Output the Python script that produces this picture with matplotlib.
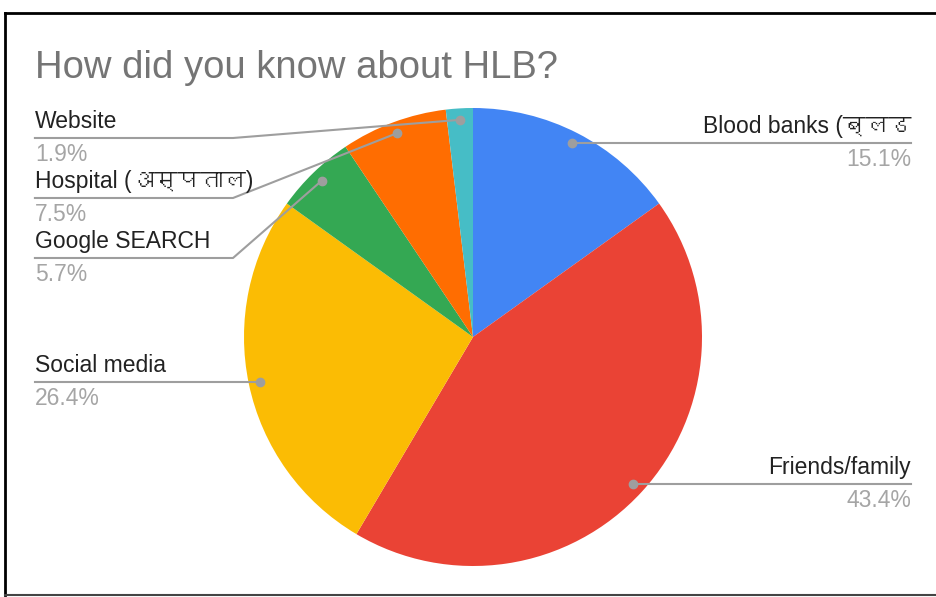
import numpy as np
import matplotlib
matplotlib.use("Agg")
import matplotlib.pyplot as plt
from matplotlib import font_manager
from matplotlib.ft2font import FT2Font
from matplotlib.lines import Line2D

# ─────────────────────────────────────────────
# Data
# ─────────────────────────────────────────────
labels = ["Blood banks (ब्लड", "Friends/family", "Social media",
          "Google SEARCH", "Hospital (अस्पताल)", "Website"]
shares = [15.1, 43.4, 26.4, 5.7, 7.5, 1.9]
colors = ["#4285F4", "#EA4335", "#FBBC04", "#34A853", "#FF6D01", "#46BDC6"]

# side of each label and the y level (data units) of its label line
# None -> line stays level with the slice dot
label_side = ["right", "right", "left", "left", "left", "left"]
label_level = [None, None, None, 0.345, 0.607, 0.869]


# find any installed font that can draw Devanagari
def find_devanagari():
    for f in font_manager.fontManager.ttflist:
        try:
            if 0x0905 in FT2Font(f.fname).get_charmap():
                return f.name
        except Exception:
            continue
    return None


families = ["Liberation Sans", "DejaVu Sans"]
deva = find_devanagari()
if deva:
    families.insert(1, deva)
plt.rcParams["font.family"] = families

W, H = 937, 597
fig = plt.figure(figsize=(W / 100, H / 100), dpi=100)

# pie centred at (473, 337) px, radius 229 px
cx, cy, r = 473, 337, 229
ax = fig.add_axes([(cx - r) / W, (H - cy - r) / H, 2 * r / W, 2 * r / H])
wedges, _ = ax.pie(shares, colors=colors, startangle=90, counterclock=False,
                   radius=1, wedgeprops=dict(linewidth=0))
ax.set_xlim(-1, 1)
ax.set_ylim(-1, 1)
ax.set_aspect("equal")
ax.axis("off")

line_col = "#9e9e9e"
x_left, x_right, x_elbow = -1.913, 1.913, -1.048
for w, lab, pct, side, lvl in zip(wedges, labels, shares, label_side, label_level):
    mid = np.deg2rad((w.theta1 + w.theta2) / 2)
    dx, dy = 0.95 * np.cos(mid), 0.95 * np.sin(mid)
    ax.plot([dx], [dy], "o", color=line_col, markersize=6, clip_on=False, zorder=5)
    if side == "right":
        ax.plot([dx, x_right], [dy, dy], color=line_col, lw=1.5, clip_on=False)
        y, xt, ha = dy, x_right, "right"
    elif lvl is None:
        ax.plot([x_left, dx], [dy, dy], color=line_col, lw=1.5, clip_on=False)
        y, xt, ha = dy, x_left, "left"
    else:
        ax.plot([dx, x_elbow, x_left], [dy, lvl, lvl], color=line_col, lw=1.5,
                clip_on=False)
        y, xt, ha = lvl, x_left, "left"
    ax.text(xt, y + 0.044, lab, ha=ha, va="baseline", fontsize=16.5, color="#222222")
    ax.text(xt, y - 0.1, f"{pct:.1f}%", ha=ha, va="baseline", fontsize=16.5,
            color="#a5a5a5")

fig.text(35 / W, 1 - 78 / H, "How did you know about HLB?", fontsize=27.5,
         color="#757575", va="baseline", ha="left")

# frame around the chart (open on the right)
fig.add_artist(Line2D([5.5 / W, 1], [1 - 12.5 / H, 1 - 12.5 / H], color="black", lw=2))
fig.add_artist(Line2D([5.5 / W, 5.5 / W], [1 - 12.5 / H, 1 - 595 / H], color="black", lw=2))
fig.add_artist(Line2D([5.5 / W, 1], [1 - 595 / H, 1 - 595 / H], color="#444444", lw=1.5))

fig.savefig("out.png", dpi=100)
